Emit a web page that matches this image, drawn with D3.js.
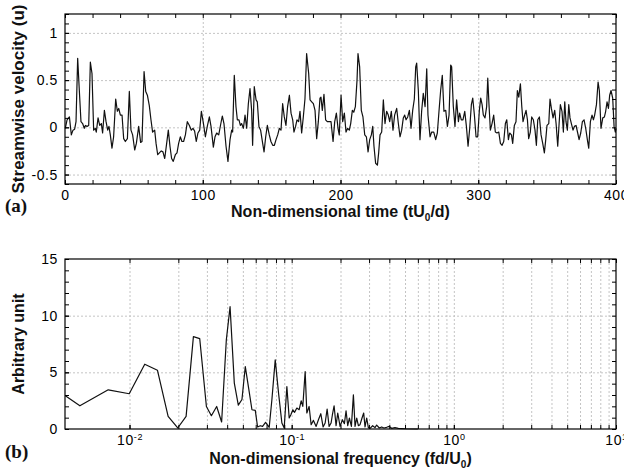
<!DOCTYPE html>
<html>
<head>
<meta charset="utf-8">
<script src="https://cdn.jsdelivr.net/npm/d3@7"></script>
<style>
body { margin:0; background:#fff; }
.grid line { stroke:#c4c4c4; stroke-dasharray:2,2; }
.grid path { display:none; }
.ax path { display:none; }
.ax line { stroke:#000; }
</style>
</head>
<body>
<div id="chart"></div>
<script>

var width = 624;
var height = 469;

var plotLeft = 65;
var plotRight = 616;
var topA = 14;
var bottomA = 184;
var topB = 259;
var bottomB = 429;
var fontTick = '"Liberation Sans", Arial, sans-serif';

// (a) streamwise velocity vs time, pairs [t, u]
var velocity = [
 [0.2,-0.01],[1.5,0.08],[3.2,0.11],[4.6,-0.08],[5.8,-0.03],[7.0,-0.02],[8.0,0.06],[9.2,0.73],[10.4,0.39],[11.6,0.06],
 [12.8,0.04],[14.0,-0.01],[14.8,0.02],[16.0,0.01],[17.2,0.02],[18.4,0.69],[19.6,0.57],[20.8,-0.03],[22.0,-0.01],[22.7,-0.05],
 [24.0,0.10],[25.2,0.02],[26.4,0.04],[27.3,-0.06],[28.6,0.18],[29.8,0.06],[31.0,-0.03],[31.9,0.01],[32.9,-0.08],[34.1,-0.22],
 [35.3,-0.10],[36.8,0.30],[38.0,0.17],[39.0,0.20],[40.2,0.13],[41.4,0.13],[42.6,-0.12],[43.8,-0.15],[45.3,-0.12],[46.7,0.38],
 [47.9,-0.03],[49.1,-0.08],[50.6,-0.24],[51.8,-0.17],[53.5,0.01],[54.9,-0.16],[55.9,-0.15],[57.4,0.59],[58.6,0.38],[59.8,0.34],
 [61.2,0.23],[62.4,0.08],[63.6,-0.05],[65.1,-0.03],[66.1,-0.17],[67.3,-0.29],[68.5,-0.27],[69.9,-0.25],[71.1,-0.26],[72.4,-0.33],
 [73.8,-0.17],[75.0,-0.03],[76.2,-0.20],[77.4,-0.33],[78.6,-0.36],[80.1,-0.29],[81.3,-0.27],[82.5,-0.17],[83.7,-0.10],[84.9,-0.15],
 [86.1,-0.15],[87.4,-0.08],[88.8,0.06],[90.3,0.02],[91.7,-0.03],[92.9,-0.01],[94.1,-0.04],[95.3,-0.15],[96.5,-0.06],[97.8,-0.03],
 [99.0,0.17],[100.4,0.05],[101.9,-0.10],[103.3,0.01],[104.8,0.11],[106.0,0.01],[107.7,-0.21],[108.9,-0.10],[110.1,-0.06],[111.6,-0.08],
 [113.0,0.03],[114.2,0.12],[115.4,0.04],[116.9,-0.20],[118.3,-0.36],[119.8,-0.13],[121.0,-0.03],[121.7,-0.05],[122.9,0.55],[124.1,0.22],
 [125.1,0.08],[126.3,0.08],[127.3,0.02],[128.2,0.04],[129.5,-0.01],[130.7,0.13],[131.9,-0.01],[133.1,0.25],[134.3,0.41],[135.5,0.18],
 [136.2,-0.19],[137.4,0.43],[138.7,0.29],[139.6,0.27],[140.8,0.01],[142.0,-0.03],[143.5,-0.17],[144.5,-0.26],[145.7,-0.10],[146.9,0.02],
 [148.3,-0.08],[149.5,-0.15],[150.8,-0.19],[152.0,-0.19],[153.2,-0.13],[154.4,-0.08],[155.6,-0.01],[156.8,-0.03],[158.0,0.25],[159.2,0.11],
 [160.4,0.02],[161.6,0.22],[162.9,0.34],[164.1,0.15],[165.3,0.08],[166.2,-0.05],[167.4,0.01],[168.4,0.08],[169.6,0.06],[170.6,0.17],
 [171.8,-0.06],[173.0,0.11],[174.2,0.30],[175.4,0.78],[176.9,0.57],[177.9,0.29],[179.1,0.27],[180.3,0.25],[181.5,0.18],[182.7,-0.12],
 [183.9,0.06],[185.1,0.31],[185.8,0.32],[186.8,0.18],[188.0,0.35],[189.2,0.08],[190.4,0.06],[191.9,0.06],[193.1,0.06],[194.6,-0.15],
 [195.8,0.06],[197.0,0.15],[198.2,-0.01],[199.1,-0.08],[200.4,0.34],[201.6,0.06],[202.8,0.15],[204.0,-0.05],[205.2,-0.01],[206.4,-0.03],
 [207.4,0.04],[208.6,0.18],[209.6,0.16],[210.8,0.22],[212.0,0.50],[212.7,0.78],[213.9,0.64],[215.1,0.18],[216.3,0.11],[217.6,-0.08],
 [218.8,-0.10],[220.0,-0.26],[221.2,-0.13],[222.4,-0.08],[223.4,0.01],[224.3,-0.20],[225.5,-0.38],[226.8,-0.40],[227.7,-0.27],[228.7,-0.08],
 [229.9,-0.05],[231.1,0.29],[232.3,0.04],[233.5,0.17],[234.7,0.13],[235.7,0.06],[236.9,0.17],[238.1,-0.03],[239.3,0.13],[240.8,0.20],
 [242.0,0.04],[243.2,-0.10],[244.4,-0.03],[245.6,0.10],[246.6,0.13],[247.6,0.08],[248.8,0.11],[250.0,0.18],[251.2,-0.01],[252.4,0.18],
 [253.6,0.30],[254.6,0.64],[255.3,0.68],[256.5,0.39],[257.7,-0.13],[258.9,0.17],[260.1,0.36],[261.4,0.22],[262.6,0.62],[263.5,0.13],
 [265.0,-0.10],[266.2,-0.05],[267.7,-0.05],[269.1,-0.13],[270.3,-0.06],[271.5,0.17],[272.7,0.39],[273.9,0.55],[275.1,0.17],[276.4,0.18],
 [277.6,0.01],[278.8,0.13],[280.0,0.66],[280.7,0.64],[281.9,0.22],[283.1,0.01],[284.3,0.29],[285.6,0.06],[286.5,0.15],[287.7,0.08],
 [288.9,0.08],[290.2,0.17],[291.4,0.01],[292.6,-0.20],[293.8,-0.01],[295.0,0.24],[296.0,0.31],[297.2,0.13],[298.4,-0.10],[299.6,-0.10],
 [300.8,0.18],[301.8,0.31],[302.8,0.24],[303.7,0.13],[304.9,0.10],[306.1,0.22],[306.9,0.52],[307.8,0.24],[308.8,-0.03],[310.0,0.04],
 [311.2,0.13],[312.4,-0.05],[313.6,-0.06],[314.9,-0.05],[316.1,-0.17],[317.3,-0.19],[318.5,-0.15],[319.7,0.04],[320.7,0.08],[321.9,-0.13],
 [322.8,-0.06],[324.1,-0.08],[325.0,-0.17],[326.2,0.02],[327.4,0.06],[328.4,0.39],[329.4,0.32],[330.6,0.46],[331.6,0.22],[332.5,0.06],
 [333.7,0.13],[334.7,0.18],[335.7,0.08],[336.6,-0.12],[337.8,-0.05],[338.8,0.11],[340.0,0.08],[341.2,-0.03],[342.2,-0.19],[343.2,0.08],
 [344.4,0.11],[345.6,-0.08],[346.8,-0.17],[348.0,-0.27],[349.0,-0.13],[349.9,0.02],[351.2,0.04],[352.1,0.30],[353.1,0.20],[354.3,0.10],
 [355.5,0.18],[356.5,0.04],[357.7,-0.20],[358.7,0.04],[359.6,0.24],[360.8,0.17],[361.8,-0.05],[362.8,0.27],[363.7,0.06],[364.7,-0.03],
 [365.7,0.24],[366.6,0.10],[367.6,0.04],[368.8,-0.03],[369.8,0.01],[371.0,0.02],[372.2,-0.06],[373.2,-0.13],[374.4,-0.06],[375.6,0.06],
 [376.8,0.08],[378.0,-0.01],[379.2,-0.13],[380.2,-0.22],[381.4,0.06],[382.6,0.13],[383.6,0.08],[384.5,0.13],[385.8,0.24],[387.0,0.48],
 [387.9,0.39],[389.1,-0.01],[390.4,0.10],[391.6,0.11],[392.5,0.17],[393.5,0.27],[394.5,0.20],[395.4,0.34],[396.4,0.39],[397.6,0.31],
 [398.6,0.01],[399.5,-0.05],[400.0,-0.01]
];

// (b) spectrum, pairs [f, amplitude]
var spectrum = [
 [0.00402,2.93],[0.00494,2.05],[0.00739,3.46],[0.00996,3.11],[0.01241,5.72],[0.01486,5.19],[0.0173,1.11],[0.01982,0.09],
 [0.02233,1.11],[0.02477,8.15],[0.02709,7.98],[0.02979,1.99],[0.03197,1.17],[0.03447,1.99],[0.03698,0.62],[0.03953,7.86],
 [0.04169,10.79],[0.04428,4.05],[0.04686,2.1],[0.04936,2.6],[0.05175,5.51],[0.05426,3.61],[0.05688,1.70],[0.05963,1.64],
 [0.06163,0.18],[0.064,0.29],[0.06614,0.23],[0.06902,0.59],[0.07269,0.15],[0.07549,2.58],[0.07915,6.10],[0.08298,3.17],
 [0.087,0.53],[0.08991,0.09],[0.09339,3.75],[0.09652,0.97],[0.09883,1.26],[0.1017,1.70],[0.1041,1.47],[0.1076,1.85],
 [0.1112,1.70],[0.1144,2.49],[0.1171,1.99],[0.1211,5.07],[0.124,1.41],[0.1281,1.99],[0.1318,0.38],[0.1362,0.76],
 [0.1415,0.23],[0.1462,0.82],[0.1512,1.35],[0.1562,0.18],[0.1608,0.53],[0.1654,1.76],[0.1701,0.23],[0.175,0.53],
 [0.1783,1.26],[0.1826,2.05],[0.1878,0.29],[0.1923,1.41],[0.1988,0.23],[0.2055,0.82],[0.2114,0.47],[0.2164,1.61],
 [0.2216,0.29],[0.2269,0.97],[0.2335,0.23],[0.2402,3.02],[0.2459,0.23],[0.2518,0.97],[0.2578,0.29],[0.2639,0.38],
 [0.2715,0.97],[0.278,1.41],[0.2833,0.18],[0.2901,0.97],[0.297,0.12],[0.3041,0.06],[0.3158,0.29],[0.3264,0.12],
 [0.3342,0.35],[0.3471,0.09],[0.3588,0.18],[0.3709,0.09],[0.3849,0.15],[0.3998,0.23],[0.4133,0.06],[0.4334,0.12],
 [0.4545,0.06],[0.5,0.02],[0.6,0]
];

var timeTicks = [0,100,200,300,400];
var velTicks = [-0.5,0,0.5,1];
var velLabels = ['-0.5','0','0.5','1'];
var freqTicks = [0.01,0.1,1,10];
var freqExp = ['-2','-1','0','1'];
var ampTicks = [0,5,10,15];

var svg = d3.select('#chart')
	.append('svg')
	.attr('width', width)
	.attr('height', height)
	.style('background-color','#fff');

var xA = d3.scaleLinear().domain([0,400]).range([plotLeft, plotRight]);
var yA = d3.scaleLinear().domain([-0.6,1.2]).range([bottomA, topA]);
var xB = d3.scaleLog().domain([0.004,10]).range([plotLeft, plotRight]);
var yB = d3.scaleLinear().domain([0,15]).range([bottomB, topB]);

// minor tick positions
var timeMinor = d3.range(0, 401, 20);
var velMinor = d3.range(-6, 13).map(function(d){ return d/10; });
var ampMinor = d3.range(0, 16);
var freqMinor = [];
[0.01,0.1,1].forEach(function(dec){
	for (var k = 1; k < 10; k++) freqMinor.push(dec*k);
});
freqMinor.push(10);

function styleTicks(g) {
	g.attr('font-family', fontTick).attr('font-size', 14);
	g.selectAll('text').attr('fill','#000').attr('letter-spacing', 0.6);
}

// ---------- panel (a) ----------

svg.append('g').attr('class','grid')
	.attr('transform','translate(0,'+bottomA+')')
	.call(d3.axisBottom(xA).tickValues([100,200,300]).tickSize(-(bottomA-topA)).tickFormat(''));
svg.append('g').attr('class','grid')
	.attr('transform','translate('+plotLeft+',0)')
	.call(d3.axisLeft(yA).tickValues(velTicks).tickSize(-(plotRight-plotLeft)).tickFormat(''));

svg.append('path')
	.datum(velocity)
	.attr('fill','none')
	.attr('stroke','#111')
	.attr('stroke-width',1.2)
	.attr('stroke-linejoin','round')
	.attr('d', d3.line()
		.x(function(d){ return xA(d[0]); })
		.y(function(d){ return yA(d[1]); }));

svg.append('g').attr('class','ax')
	.attr('transform','translate(0,'+bottomA+')')
	.call(d3.axisBottom(xA).tickValues(timeMinor).tickSize(-4).tickFormat(''));
svg.append('g').attr('class','ax')
	.attr('transform','translate(0,'+bottomA+')')
	.call(d3.axisBottom(xA).tickValues(timeTicks).tickSize(-4).tickPadding(6))
	.call(styleTicks);
svg.append('g').attr('class','ax')
	.attr('transform','translate(0,'+topA+')')
	.call(d3.axisTop(xA).tickValues(timeMinor).tickSize(-4).tickFormat(''));
svg.append('g').attr('class','ax')
	.attr('transform','translate('+plotLeft+',0)')
	.call(d3.axisLeft(yA).tickValues(velMinor).tickSize(-4).tickFormat(''));
svg.append('g').attr('class','ax')
	.attr('transform','translate('+plotLeft+',0)')
	.call(d3.axisLeft(yA).tickValues(velTicks).tickSize(-4).tickPadding(7)
		.tickFormat(function(d, i){ return velLabels[i]; }))
	.call(styleTicks);
svg.append('g').attr('class','ax')
	.attr('transform','translate('+plotRight+',0)')
	.call(d3.axisRight(yA).tickValues(velMinor).tickSize(-4).tickFormat(''));

svg.append('rect')
	.attr('x', plotLeft).attr('y', topA)
	.attr('width', plotRight-plotLeft).attr('height', bottomA-topA)
	.attr('fill','none').attr('stroke','#000').attr('stroke-width',1.2);

// ---------- panel (b) ----------

svg.append('g').attr('class','grid')
	.attr('transform','translate(0,'+bottomB+')')
	.call(d3.axisBottom(xB).tickValues(freqMinor.slice(0, -1)).tickSize(-(bottomB-topB)).tickFormat(''));
svg.append('g').attr('class','grid')
	.attr('transform','translate('+plotLeft+',0)')
	.call(d3.axisLeft(yB).tickValues([5,10]).tickSize(-(plotRight-plotLeft)).tickFormat(''));

svg.append('path')
	.datum(spectrum)
	.attr('fill','none')
	.attr('stroke','#111')
	.attr('stroke-width',1.2)
	.attr('stroke-linejoin','round')
	.attr('d', d3.line()
		.x(function(d){ return xB(d[0]); })
		.y(function(d){ return yB(d[1]); }));

svg.append('g').attr('class','ax')
	.attr('transform','translate(0,'+bottomB+')')
	.call(d3.axisBottom(xB).tickValues(freqMinor).tickSize(-4).tickFormat(''));
svg.append('g').attr('class','ax')
	.attr('transform','translate(0,'+topB+')')
	.call(d3.axisTop(xB).tickValues(freqMinor).tickSize(-4).tickFormat(''));

var freqAxis = svg.append('g').attr('class','ax')
	.attr('transform','translate(0,'+bottomB+')')
	.call(d3.axisBottom(xB).tickValues(freqTicks).tickSize(-4).tickPadding(6).tickFormat(''))
	.call(styleTicks);
freqAxis.selectAll('.tick text').each(function(d, i){
	var t = d3.select(this);
	t.append('tspan').text('10');
	t.append('tspan').attr('dy','-5').attr('font-size',9).text(freqExp[i]);
});

svg.append('g').attr('class','ax')
	.attr('transform','translate('+plotLeft+',0)')
	.call(d3.axisLeft(yB).tickValues(ampMinor).tickSize(-4).tickFormat(''));
svg.append('g').attr('class','ax')
	.attr('transform','translate('+plotLeft+',0)')
	.call(d3.axisLeft(yB).tickValues(ampTicks).tickSize(-4).tickPadding(7))
	.call(styleTicks);
svg.append('g').attr('class','ax')
	.attr('transform','translate('+plotRight+',0)')
	.call(d3.axisRight(yB).tickValues(ampMinor).tickSize(-4).tickFormat(''));

svg.append('rect')
	.attr('x', plotLeft).attr('y', topB)
	.attr('width', plotRight-plotLeft).attr('height', bottomB-topB)
	.attr('fill','none').attr('stroke','#000').attr('stroke-width',1.2);

// ---------- titles ----------

function boldLabel(x, y, rot, size) {
	return svg.append('text')
		.attr('transform','translate('+x+','+y+')'+(rot ? ' rotate(-90)' : ''))
		.attr('text-anchor','middle')
		.style('font-family', fontTick)
		.style('font-size', size + 'px')
		.style('font-weight','700')
		.style('fill','#111');
}

boldLabel(24, (topA+bottomA)/2, true, 17).text('Streamwise velocity (u)');
boldLabel(24, (topB+bottomB)/2, true, 16).text('Arbitrary unit');

var tA = boldLabel((plotLeft+plotRight)/2, 217, false, 16);
tA.append('tspan').text('Non-dimensional time (tU');
tA.append('tspan').attr('dy',4).style('font-size','10px').text('0');
tA.append('tspan').attr('dy',-4).text('/d)');

var tB = boldLabel((plotLeft+plotRight)/2, 464, false, 16);
tB.append('tspan').text('Non-dimensional frequency (fd/U');
tB.append('tspan').attr('dy',4).style('font-size','10px').text('0');
tB.append('tspan').attr('dy',-4).text(')');

[['(a)', 212], ['(b)', 458]].forEach(function(p){
	svg.append('text')
		.attr('x', 5).attr('y', p[1])
		.text(p[0])
		.style('font-family','"Liberation Serif", "Times New Roman", serif')
		.style('font-size','19px')
		.style('font-weight','700')
		.style('fill','#111');
});

</script>
</body>
</html>
